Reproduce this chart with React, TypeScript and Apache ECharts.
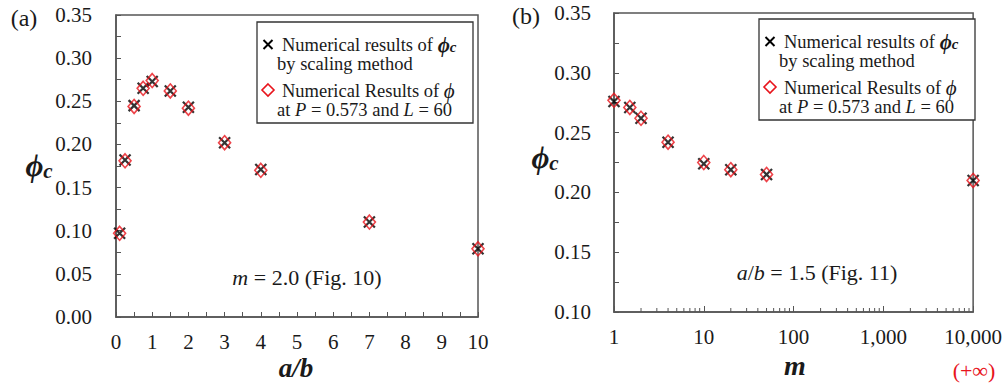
import React, { useEffect, useRef } from "react";
import * as echarts from "echarts";

// ---------- data ----------
const aOverB = [0.1, 0.25, 0.5, 0.75, 1, 1.5, 2, 3, 4, 7, 10];
const phiCScalingA = [0.097, 0.182, 0.245, 0.265, 0.273, 0.262, 0.243, 0.202, 0.171, 0.11, 0.079];
const phiFiniteA = [0.097, 0.181, 0.244, 0.265, 0.274, 0.262, 0.242, 0.202, 0.17, 0.11, 0.079];

const mValues = [1, 1.5, 2, 4, 10, 20, 50, 10000];
const phiCScalingB = [0.276, 0.271, 0.262, 0.242, 0.224, 0.219, 0.215, 0.21];
const phiFiniteB = [0.277, 0.271, 0.262, 0.242, 0.225, 0.219, 0.215, 0.21];

const logMinorTicks = [2, 3, 4, 5, 6, 7, 8, 9, 20, 30, 40, 50, 60, 70, 80, 90, 200, 300, 400, 500, 600, 700, 800, 900, 2000, 3000, 4000, 5000, 6000, 7000, 8000, 9000];

const FONT = "'Liberation Serif', 'Times New Roman', serif";
const AXIS_COLOR = "#555";
const TEXT_COLOR = "#1a1a1a";
const RED = "#e8141c";
const CROSS = "path://M0,0L10,10M0,10L10,0";
const LEG_FS = 18.5;
const LEG_LH = 19;

const legendGroup = (left: number, top: number) => ({
  type: "group",
  x: left,
  y: top,
  children: [
    {
      type: "rect",
      shape: { x: 0, y: 0, width: 216, height: 101 },
      style: { fill: "#fff", stroke: "#333", lineWidth: 1.3 },
    },
    { type: "line", shape: { x1: 6.5, y1: 18, x2: 15.5, y2: 27 }, style: { stroke: "#000", lineWidth: 2 } },
    { type: "line", shape: { x1: 6.5, y1: 27, x2: 15.5, y2: 18 }, style: { stroke: "#000", lineWidth: 2 } },
    {
      type: "text",
      x: 25,
      y: 13,
      style: {
        text: "{t|Numerical results of }{phi|ϕ}{sub|c}\n{s| }{t|by scaling method}",
        verticalAlign: "top",
        rich: {
          t: { fontFamily: FONT, fontSize: LEG_FS, fill: TEXT_COLOR, lineHeight: LEG_LH },
          s: { fontFamily: FONT, fontSize: LEG_FS, fill: TEXT_COLOR, lineHeight: LEG_LH, width: 0, padding: [0, 0, 0, -5] },
          phi: { fontFamily: FONT, fontSize: 21, fontStyle: "italic", fontWeight: "bold", fill: TEXT_COLOR, lineHeight: LEG_LH },
          sub: { fontFamily: FONT, fontSize: 15, fontStyle: "italic", fontWeight: "bold", fill: TEXT_COLOR, lineHeight: 13, verticalAlign: "bottom" },
        },
      },
    },
    {
      type: "polygon",
      shape: { points: [[11, 62], [17, 68], [11, 74], [5, 68]] },
      style: { fill: "none", stroke: RED, lineWidth: 1.6 },
    },
    {
      type: "text",
      x: 25,
      y: 59,
      style: {
        text: "{t|Numerical Results of }{phi|ϕ}\n{s| }{t|at }{i|P}{t| = 0.573 and }{i|L}{t| = 60}",
        verticalAlign: "top",
        rich: {
          t: { fontFamily: FONT, fontSize: LEG_FS, fill: TEXT_COLOR, lineHeight: LEG_LH },
          s: { fontFamily: FONT, fontSize: LEG_FS, fill: TEXT_COLOR, lineHeight: LEG_LH, width: 0, padding: [0, 0, 0, -5] },
          i: { fontFamily: FONT, fontSize: LEG_FS, fontStyle: "italic", fill: TEXT_COLOR, lineHeight: LEG_LH },
          phi: { fontFamily: FONT, fontSize: 21, fontStyle: "italic", fill: TEXT_COLOR, lineHeight: LEG_LH },
        },
      },
    },
  ],
});

const phiName = (x: number, y: number) => ({
  type: "text",
  x,
  y,
  style: {
    text: "{phi|ϕ}{sub|c}",
    align: "center",
    verticalAlign: "middle",
    rich: {
      phi: { fontFamily: FONT, fontSize: 31, fontStyle: "italic", fontWeight: "bold", fill: TEXT_COLOR, lineHeight: 32 },
      sub: { fontFamily: FONT, fontSize: 21, fontStyle: "italic", fontWeight: "bold", fill: TEXT_COLOR, lineHeight: 22, verticalAlign: "bottom" },
    },
  },
});

const axisCommon = {
  axisLine: { show: true, onZero: false, lineStyle: { color: AXIS_COLOR, width: 1.5 } },
  axisTick: { show: true, inside: true, length: 5, lineStyle: { color: AXIS_COLOR, width: 1 } },
  minorTick: { show: true, splitNumber: 2, length: 5, lineStyle: { color: AXIS_COLOR, width: 1 } },
  splitLine: { show: false },
  minorSplitLine: { show: false },
  axisLabel: { fontFamily: FONT, fontSize: 21, color: TEXT_COLOR },
};

export default function App() {
  const ref = useRef<HTMLDivElement>(null);
  useEffect(() => {
    if (!ref.current) return;
    const chart = echarts.init(ref.current, undefined, { renderer: "svg" });
    const option: any = {
      animation: false,
      backgroundColor: "#fff",
      grid: [
        { left: 116, right: 527, top: 15, bottom: 71, show: true, borderColor: AXIS_COLOR, borderWidth: 1.5, backgroundColor: "transparent" },
        { left: 614, right: 29, top: 13, bottom: 76, show: true, borderColor: AXIS_COLOR, borderWidth: 1.5, backgroundColor: "transparent" },
      ],
      xAxis: [
        {
          ...axisCommon,
          gridIndex: 0,
          type: "value",
          min: 0,
          max: 10,
          interval: 1,
          axisLabel: { ...axisCommon.axisLabel, margin: 14 },
        },
        {
          ...axisCommon,
          gridIndex: 1,
          type: "log",
          logBase: 10,
          min: 1,
          max: 10000,
          minorTick: { show: false },
          axisTick: { ...axisCommon.axisTick, length: 6 },
          axisLabel: {
            ...axisCommon.axisLabel,
            margin: 14,
            formatter: (v: number) => Math.round(v).toLocaleString("en-US"),
          },
        },
      ],
      yAxis: [
        {
          ...axisCommon,
          gridIndex: 0,
          type: "value",
          min: 0,
          max: 0.35,
          interval: 0.05,
          axisLabel: { ...axisCommon.axisLabel, margin: 24, formatter: (v: number) => v.toFixed(2) },
        },
        {
          ...axisCommon,
          gridIndex: 1,
          type: "value",
          min: 0.1,
          max: 0.35,
          interval: 0.05,
          axisLabel: { ...axisCommon.axisLabel, margin: 23, formatter: (v: number) => v.toFixed(2) },
        },
      ],
      series: [
        {
          name: "scaling (a)",
          type: "scatter",
          xAxisIndex: 0,
          yAxisIndex: 0,
          clip: false,
          symbol: CROSS,
          symbolSize: 11,
          itemStyle: { color: "none", borderColor: "#000", borderWidth: 2.2 },
          data: aOverB.map((x, i) => [x, phiCScalingA[i]]),
          z: 3,
        },
        {
          name: "finite (a)",
          type: "scatter",
          xAxisIndex: 0,
          yAxisIndex: 0,
          clip: false,
          symbol: "diamond",
          symbolSize: [12, 14],
          itemStyle: { color: "none", borderColor: RED, borderWidth: 1.6 },
          data: aOverB.map((x, i) => [x, phiFiniteA[i]]),
          z: 4,
        },
        {
          name: "scaling (b)",
          type: "scatter",
          xAxisIndex: 1,
          yAxisIndex: 1,
          clip: false,
          symbol: CROSS,
          symbolSize: 11,
          itemStyle: { color: "none", borderColor: "#000", borderWidth: 2.2 },
          data: mValues.map((x, i) => [x, phiCScalingB[i]]),
          z: 3,
        },
        {
          name: "finite (b)",
          type: "scatter",
          xAxisIndex: 1,
          yAxisIndex: 1,
          clip: false,
          symbol: "diamond",
          symbolSize: [12, 14],
          itemStyle: { color: "none", borderColor: RED, borderWidth: 1.6 },
          data: mValues.map((x, i) => [x, phiFiniteB[i]]),
          z: 4,
        },
        {
          name: "log minor ticks",
          type: "custom",
          xAxisIndex: 1,
          yAxisIndex: 1,
          silent: true,
          clip: false,
          data: logMinorTicks.map((v) => [v, 0.1]),
          renderItem: (params: any, api: any) => {
            const p = api.coord([api.value(0), api.value(1)]);
            return {
              type: "line",
              shape: { x1: p[0], y1: p[1], x2: p[0], y2: p[1] - 4 },
              style: { stroke: AXIS_COLOR, lineWidth: 1 },
            };
          },
          z: 5,
        },
      ],
      graphic: [
        { type: "text", x: 24, y: 18, style: { text: "(a)", fontFamily: FONT, fontSize: 24, fill: TEXT_COLOR, align: "center", verticalAlign: "middle" } },
        { type: "text", x: 526, y: 16, style: { text: "(b)", fontFamily: FONT, fontSize: 24, fill: TEXT_COLOR, align: "center", verticalAlign: "middle" } },
        phiName(39, 165),
        phiName(545, 157),
        {
          type: "text",
          x: 296,
          y: 368,
          style: { text: "a/b", fontFamily: FONT, fontSize: 27, fontStyle: "italic", fontWeight: "bold", fill: TEXT_COLOR, align: "center", verticalAlign: "middle" },
        },
        {
          type: "text",
          x: 795,
          y: 365,
          style: { text: "m", fontFamily: FONT, fontSize: 28, fontStyle: "italic", fontWeight: "bold", fill: TEXT_COLOR, align: "center", verticalAlign: "middle" },
        },
        {
          type: "text",
          x: 974,
          y: 370,
          style: { text: "(+∞)", fontFamily: FONT, fontSize: 22, fill: RED, align: "center", verticalAlign: "middle" },
        },
        {
          type: "text",
          x: 307,
          y: 277,
          style: {
            text: "{i|m}{t| = 2.0 (Fig. 10)}",
            align: "center",
            verticalAlign: "middle",
            rich: {
              t: { fontFamily: FONT, fontSize: 22, fill: TEXT_COLOR },
              i: { fontFamily: FONT, fontSize: 22, fontStyle: "italic", fill: TEXT_COLOR },
            },
          },
        },
        {
          type: "text",
          x: 817,
          y: 272,
          style: {
            text: "{i|a}{t|/}{i|b}{t| = 1.5 (Fig. 11)}",
            align: "center",
            verticalAlign: "middle",
            rich: {
              t: { fontFamily: FONT, fontSize: 22, fill: TEXT_COLOR },
              i: { fontFamily: FONT, fontSize: 22, fontStyle: "italic", fill: TEXT_COLOR },
            },
          },
        },
        legendGroup(257, 22),
        legendGroup(759, 19),
      ],
    };
    chart.setOption(option);
    return () => chart.dispose();
  }, []);
  return (
    <div
      ref={ref}
      style={{ position: "fixed", left: 0, top: 0, width: 1005, height: 388, background: "#fff" }}
    />
  );
}
